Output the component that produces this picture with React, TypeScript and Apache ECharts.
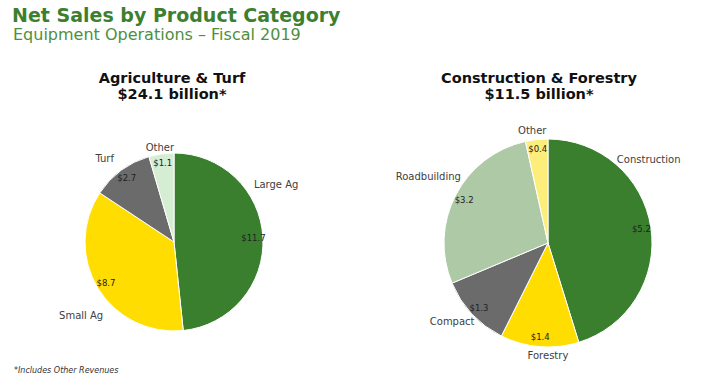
import React, { useEffect, useRef } from "react";
import * as echarts from "echarts";

const agCategories = ["Large Ag", "Small Ag", "Turf", "Other"];
const agValues = [11.7, 8.7, 2.7, 1.1];
const agColors = ["#3a7f2e", "#ffdd00", "#6b6b6b", "#d5edd2"];
const agNameOffsets = [[-16, -53], [12, 26], [-1, -10], [18, -4]];

const cfCategories = ["Construction", "Forestry", "Compact", "Roadbuilding", "Other"];
const cfValues = [5.2, 1.4, 1.3, 3.2, 0.4];
const cfColors = ["#3a7f2e", "#ffdd00", "#6b6b6b", "#adc9a6", "#fdee7c"];
const cfNameOffsets = [[-41, -68], [34, 7], [9, 6], [12, -18], [15, -7]];

const FONT = "DejaVu Sans, Verdana, sans-serif";

function namePie(names: string[], values: number[], colors: string[], offsets: number[][], center: number[], radius: number) {
  return {
    type: "pie",
    center,
    radius,
    startAngle: 90,
    clockwise: true,
    avoidLabelOverlap: false,
    silent: true,
    data: names.map((n, i) => ({ name: n, value: values[i], itemStyle: { color: colors[i] } })),
    itemStyle: { borderColor: "#ffffff", borderWidth: 1 },
    label: {
      show: true,
      position: "outside",
      formatter: "{b}",
      color: "#404040",
      fontSize: 10,
      fontFamily: FONT,
    },
    labelLine: { show: false, length: 2, length2: 0 },
    labelLayout: (p: any) => ({ dx: offsets[p.dataIndex][0], dy: offsets[p.dataIndex][1] }),
  };
}

function valuePie(names: string[], values: number[], center: number[], inner: number, outer: number) {
  return {
    type: "pie",
    center,
    radius: [inner, outer],
    startAngle: 90,
    clockwise: true,
    silent: true,
    avoidLabelOverlap: false,
    data: names.map((n, i) => ({ name: n, value: values[i] })),
    itemStyle: { color: "rgba(0,0,0,0)", borderWidth: 0 },
    label: {
      show: true,
      position: "inside",
      formatter: (p: any) => "$" + p.value.toFixed(1),
      color: "#222222",
      fontSize: 8.5,
      fontFamily: FONT,
    },
    labelLine: { show: false },
  };
}

export default function App() {
  const ref = useRef<HTMLDivElement>(null);
  useEffect(() => {
    document.body.style.margin = "0";
    const chart = echarts.init(ref.current!, null, { renderer: "svg" });
    chart.setOption({
      animation: false,
      backgroundColor: "#ffffff",
      title: [
        {
          text: "Net Sales by Product Category",
          left: 12,
          top: 5,
          padding: 0,
          textStyle: { color: "#3d7f2f", fontSize: 19, fontWeight: "bold", fontFamily: FONT },
        },
        {
          text: "Equipment Operations \u2013 Fiscal 2019",
          left: 13,
          top: 26,
          padding: 0,
          textStyle: { color: "#4e8f3e", fontSize: 16, fontWeight: "normal", fontFamily: FONT },
        },
        {
          text: "Agriculture & Turf\n$24.1 billion*",
          left: 172,
          top: 70,
          padding: 0,
          textAlign: "center",
          textStyle: { color: "#111111", fontSize: 14.5, fontWeight: "bold", fontFamily: FONT, lineHeight: 16 },
        },
        {
          text: "Construction & Forestry\n$11.5 billion*",
          left: 539,
          top: 70,
          padding: 0,
          textAlign: "center",
          textStyle: { color: "#111111", fontSize: 14.5, fontWeight: "bold", fontFamily: FONT, lineHeight: 16 },
        },
        {
          text: "*Includes Other Revenues",
          left: 14,
          top: 366,
          padding: 0,
          textStyle: { color: "#333333", fontSize: 8, fontStyle: "italic", fontWeight: "normal", fontFamily: FONT },
        },
      ],
      series: [
        namePie(agCategories, agValues, agColors, agNameOffsets, [174, 242], 89),
        valuePie(agCategories, agValues, [174, 242], 64, 89),
        namePie(cfCategories, cfValues, cfColors, cfNameOffsets, [548, 243], 104),
        valuePie(cfCategories, cfValues, [548, 243], 79, 104),
      ],
    });
    return () => chart.dispose();
  }, []);
  return <div ref={ref} style={{ width: 710, height: 384 }} />;
}
